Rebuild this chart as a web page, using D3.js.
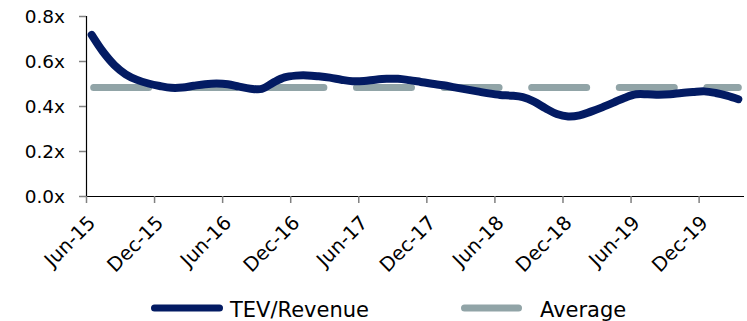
<!DOCTYPE html>
<html>
<head>
<meta charset="utf-8">
<script src="https://cdn.jsdelivr.net/npm/d3@7"></script>
<style>
  html, body { margin: 0; padding: 0; background: #ffffff; }
  svg { display: block; }
  text { font-family: "DejaVu Sans", Verdana, sans-serif; fill: #000; }
</style>
</head>
<body>
<svg id="chart" width="747" height="321"></svg>
<script>
// Monthly TEV/Revenue multiple, Jun-2015 through Mar-2020
const months = [
  "2015-06","2015-07","2015-08","2015-09","2015-10","2015-11","2015-12",
  "2016-01","2016-02","2016-03","2016-04","2016-05","2016-06","2016-07","2016-08","2016-09","2016-10","2016-11","2016-12",
  "2017-01","2017-02","2017-03","2017-04","2017-05","2017-06","2017-07","2017-08","2017-09","2017-10","2017-11","2017-12",
  "2018-01","2018-02","2018-03","2018-04","2018-05","2018-06","2018-07","2018-08","2018-09","2018-10","2018-11","2018-12",
  "2019-01","2019-02","2019-03","2019-04","2019-05","2019-06","2019-07","2019-08","2019-09","2019-10","2019-11","2019-12",
  "2020-01","2020-02","2020-03"
];
const tevRevenue = [
  0.716, 0.641, 0.582, 0.541, 0.516, 0.500, 0.489,
  0.481, 0.482, 0.490, 0.497, 0.500, 0.497, 0.486, 0.477, 0.476, 0.504, 0.527,
  0.535, 0.536, 0.532, 0.526, 0.517, 0.510, 0.511, 0.517, 0.521, 0.521, 0.515,
  0.507, 0.499, 0.492, 0.483, 0.474, 0.465, 0.456, 0.449, 0.446, 0.439, 0.419,
  0.390, 0.364, 0.353, 0.358, 0.375, 0.394, 0.415, 0.437, 0.452, 0.452, 0.450,
  0.452, 0.458, 0.462, 0.465, 0.458, 0.446, 0.430
];
const averageValue = 0.482;
const tickLabels = ["Jun-15","Dec-15","Jun-16","Dec-16","Jun-17","Dec-17","Jun-18","Dec-18","Jun-19","Dec-19"];
const yTicks = [0, 0.2, 0.4, 0.6, 0.8];
const seriesNames = ["TEV/Revenue", "Average"];
const colors = { tev: "#031b63", avg: "#91a4a7" };

const svg = d3.select("#chart");
const plot = { left: 86, right: 744, top: 16, bottom: 196 };

// Each month occupies one slot; points sit in the slot centre.
const x = d3.scaleLinear().domain([0, months.length]).range([plot.left, plot.right]);
const y = d3.scaleLinear().domain([0, 0.8]).range([plot.bottom, plot.top]);

// Y axis
const yAxis = svg.append("g")
  .attr("transform", `translate(${plot.left},0)`)
  .call(d3.axisLeft(y).tickValues(yTicks).tickSize(7).tickPadding(14)
    .tickFormat(d => d3.format(".1f")(d) + "x"));
yAxis.select(".domain").attr("stroke", "#000").attr("stroke-width", 1.2).attr("d", `M0.5,${plot.top}V${plot.bottom}`);
yAxis.selectAll(".tick line").attr("stroke", "#808080").attr("stroke-width", 1.5);
yAxis.selectAll(".tick text").attr("font-size", 18.5).attr("dy", "0.35em")
  .attr("font-family", "DejaVu Sans, Verdana, sans-serif");

// X axis: a tick every six months
const tickIdx = tickLabels.map((_, i) => i * 6);
const xAxis = svg.append("g")
  .attr("transform", `translate(0,${plot.bottom})`)
  .call(d3.axisBottom(x).tickValues(tickIdx).tickSize(7)
    .tickFormat((d, i) => tickLabels[i]));
xAxis.select(".domain").attr("stroke", "#000").attr("stroke-width", 1.2).attr("d", `M${plot.left},0.5H${plot.right}`);
xAxis.selectAll(".tick line").attr("stroke", "#808080").attr("stroke-width", 1.5);
xAxis.selectAll(".tick text")
  .attr("font-size", 19.5)
  .attr("font-family", "DejaVu Sans, Verdana, sans-serif")
  .attr("text-anchor", "end")
  .attr("dy", null)
  .attr("y", null)
  .attr("transform", "translate(10,28) rotate(-45)");

// Average (dashed)
const xc = i => x(i + 0.5);
const avgLine = d3.line().x((d, i) => xc(i)).y(() => y(averageValue));
svg.append("path")
  .datum(months)
  .attr("d", avgLine)
  .attr("fill", "none")
  .attr("stroke", colors.avg)
  .attr("stroke-width", 7)
  .attr("stroke-linecap", "round")
  .attr("stroke-dasharray", "55,32.6")
  .attr("stroke-dashoffset", -2);

// TEV/Revenue (smoothed)
const tevLine = d3.line()
  .x((d, i) => xc(i))
  .y(d => y(d))
  .curve(d3.curveCatmullRom.alpha(0.5));
svg.append("path")
  .datum(tevRevenue)
  .attr("d", tevLine)
  .attr("fill", "none")
  .attr("stroke", colors.tev)
  .attr("stroke-width", 8)
  .attr("stroke-linecap", "round")
  .attr("stroke-linejoin", "round");

// Legend
const legend = svg.append("g");
const legendItems = [
  { name: seriesNames[0], color: colors.tev, x0: 154.5, x1: 219.5, tx: 230 },
  { name: seriesNames[1], color: colors.avg, x0: 464.5, x1: 518.5, tx: 540 }
];
legendItems.forEach(it => {
  legend.append("line")
    .attr("x1", it.x0).attr("x2", it.x1)
    .attr("y1", 308).attr("y2", 308)
    .attr("stroke", it.color).attr("stroke-width", 7).attr("stroke-linecap", "round");
  legend.append("text")
    .attr("x", it.tx).attr("y", 316.5)
    .attr("font-size", 21)
    .text(it.name);
});
</script>
</body>
</html>
